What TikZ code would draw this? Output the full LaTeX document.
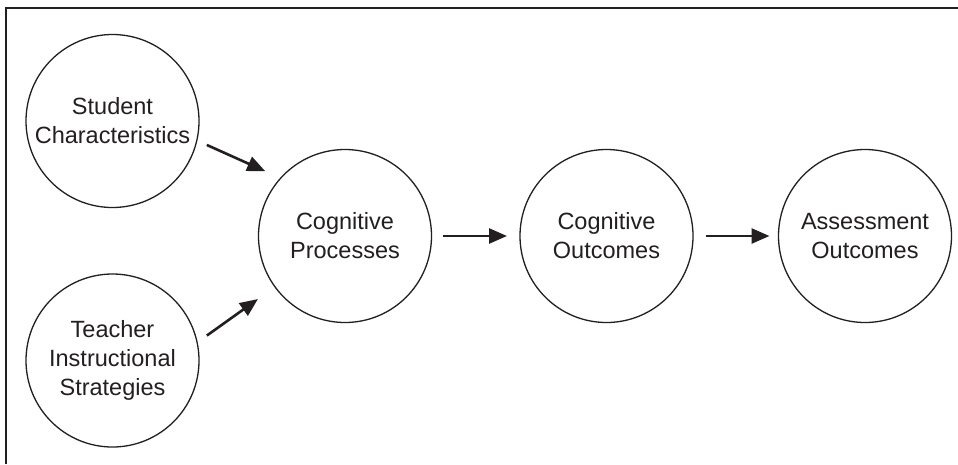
\documentclass[tikz,border=0pt]{standalone}
\usepackage{fontspec}
\setmainfont{Liberation Sans}
\usetikzlibrary{arrows.meta}
\definecolor{ink}{HTML}{231F20}
\begin{document}
\begin{tikzpicture}[x=1pt,y=-1pt,
  bubble/.style={circle, draw=ink, line width=1.3pt, minimum size=173pt, inner sep=0pt, outer sep=0pt,
     align=center, text=ink, font=\fontsize{23.5}{29}\selectfont},
  flow/.style={draw=ink, line width=2.6pt, -{Triangle[length=18pt,width=15pt]}}]
\useasboundingbox (0,0) rectangle (958,464);
\fill[white] (0,0) rectangle (958,464);
\draw[ink, line width=2.8pt] (6,464) -- (6,8) -- (958,8);
\node[bubble] (sc) at (112.5,121) {Student\\Characteristics};
\node[bubble] (tc) at (112.5,360.5) {Teacher\\Instructional\\Strategies};
\node[bubble] (cp) at (345,236) {Cognitive\\Processes};
\node[bubble] (co) at (606.5,236) {Cognitive\\Outcomes};
\node[bubble] (ao) at (865,236) {Assessment\\Outcomes};
\draw[flow, shorten <=11pt, shorten >=17pt] (sc.-13) -- (cp.138);
\draw[flow, shorten <=12pt, shorten >=21pt] (tc.12) -- (cp.216);
\draw[flow, shorten <=11pt, shorten >=13pt] (cp.east) -- (co.west);
\draw[flow, shorten <=13pt, shorten >=9pt] (co.east) -- (ao.west);
\end{tikzpicture}
\end{document}
